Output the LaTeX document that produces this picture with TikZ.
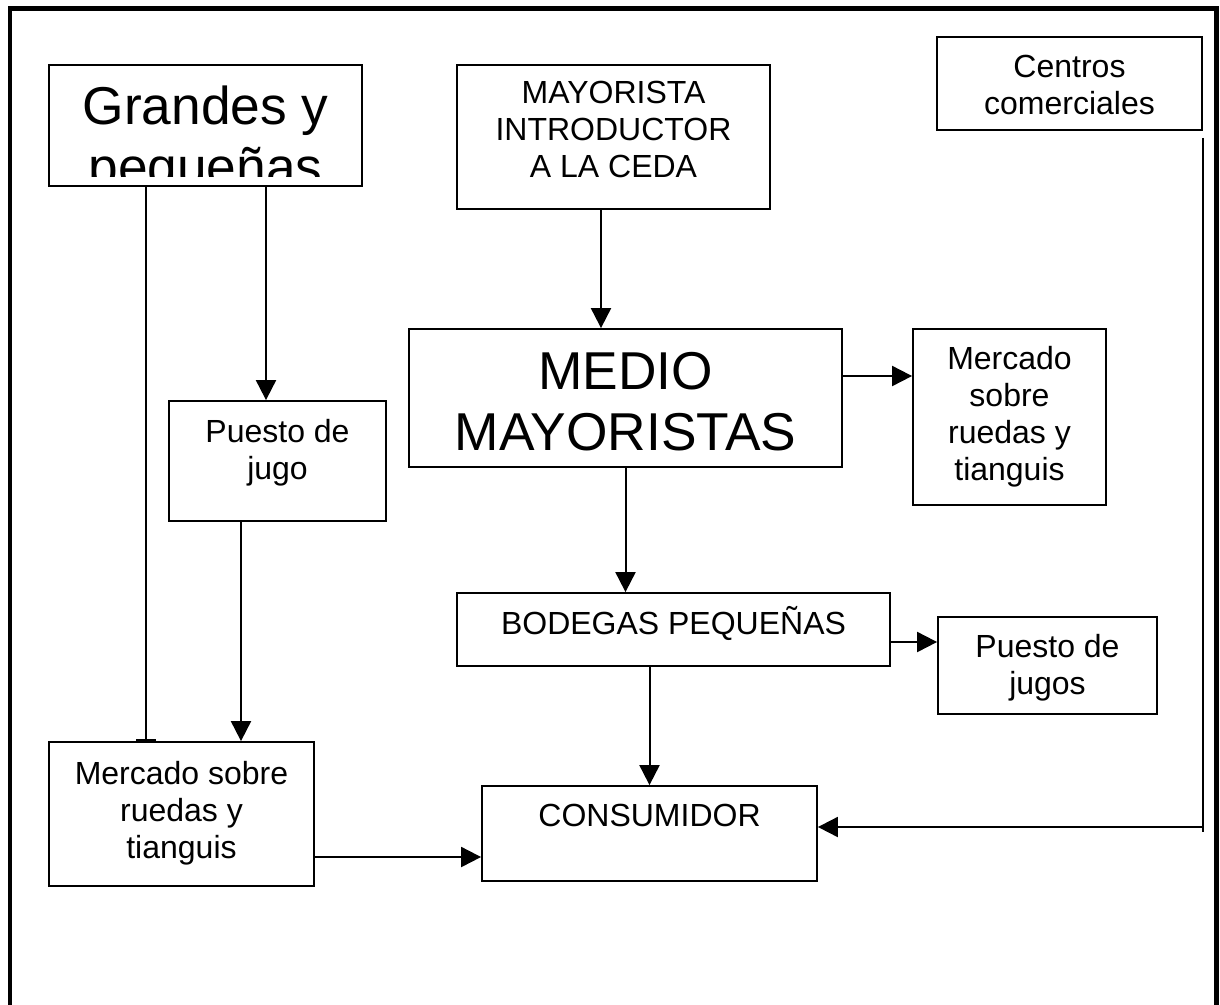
\documentclass[tikz,border=0pt]{standalone}
\usepackage{fontspec}
\setmainfont{Liberation Sans}
\usetikzlibrary{arrows.meta}

\begin{document}
\begin{tikzpicture}[x=1pt,y=-1pt,
  box/.style={draw,shape=rectangle,line width=1.8pt,inner sep=0pt},
  txt/.style={font=\fontsize{32}{37}\selectfont,align=center,inner sep=0pt,anchor=north},
  bigtxt/.style={font=\fontsize{53.3}{61}\selectfont,align=center,inner sep=0pt,anchor=north},
  arr/.style={line width=2pt,-{Triangle[length=20pt,width=20pt]}}]

  \useasboundingbox (0,0) rectangle (1220,1004);

  % outer frame (open at the bottom)
  \draw[line width=4.5pt] (10,1010) -- (10,8.5) -- (1216.5,8.5) -- (1216.5,1010);

  % Specification of nodes (position, size, text)
  \node[box,minimum width=313pt,minimum height=121pt] (grandes) at (205.5,125.5) {};
  \node[box,minimum width=313pt,minimum height=144pt,
    label={[txt,yshift=-17pt]north:MAYORISTA\\INTRODUCTOR\\A LA CEDA}] (mayorista) at (613.5,137) {};
  \node[box,minimum width=265pt,minimum height=93pt,
    label={[txt,yshift=-19pt]north:Centros\\comerciales}] (centros) at (1069.5,83.5) {};
  \node[box,minimum width=433pt,minimum height=138pt,
    label={[bigtxt,yshift=-24pt]north:MEDIO\\MAYORISTAS}] (medio) at (625.5,398) {};
  \node[box,minimum width=193pt,minimum height=176pt,
    label={[txt,yshift=-18pt]north:Mercado\\sobre\\ruedas y\\tianguis}] (mercadoR) at (1009.5,417) {};
  \node[box,minimum width=217pt,minimum height=120pt,
    label={[txt,yshift=-19pt]north:Puesto de\\jugo}] (puestoJ) at (277.5,461) {};
  \node[box,minimum width=433pt,minimum height=73pt,
    label={[txt,yshift=-14.5pt]north:BODEGAS PEQUEÑAS}] (bodegas) at (673.5,629.5) {};
  \node[box,minimum width=219pt,minimum height=97pt,
    label={[txt,yshift=-18pt]north:Puesto de\\jugos}] (puestoJs) at (1047.5,665.5) {};
  \node[box,minimum width=265pt,minimum height=144pt,
    label={[txt,yshift=-20pt]north:Mercado sobre\\ruedas y\\tianguis}] (mercadoL) at (181.5,814) {};
  \node[box,minimum width=335pt,minimum height=95pt,
    label={[txt,yshift=-19pt]north:CONSUMIDOR}] (consumidor) at (649.5,833.5) {};

  % text of the first box runs past its lower edge
  \begin{scope}
    \clip (grandes.north west) rectangle ([yshift=10pt]grandes.south east);
    \node[bigtxt] at ([yshift=-22pt]grandes.north) {Grandes y\\pequeñas};
  \end{scope}

  % connectors
  \begin{scope}[line width=2pt]
    \draw[arr] ([xshift=60.5pt]grandes.south) coordinate (g1) -- (g1 |- puestoJ.north);
    \draw[-{Bar[width=20pt]}] ([xshift=-59.5pt]grandes.south) coordinate (g2) -- (g2 |- mercadoL.north);
    \draw[arr] ([xshift=-36.5pt]puestoJ.south) coordinate (p1) -- (p1 |- mercadoL.north);
    \draw[arr] ([xshift=-12.5pt]mayorista.south) coordinate (m1) -- (m1 |- medio.north);
    \draw[arr] ([yshift=22pt]medio.east) coordinate (m2) -- (m2 -| mercadoR.west);
    \draw[arr] (medio.south) -- (medio.south |- bodegas.north);
    \draw[arr] ([yshift=-12.5pt]bodegas.east) coordinate (b1) -- (b1 -| puestoJs.west);
    \draw[arr] (bodegas.south -| consumidor.north) -- (consumidor.north);
    \draw[arr] ([yshift=-43pt]mercadoL.east) coordinate (l1) -- (l1 -| consumidor.west);
    \coordinate (ctop) at ([yshift=-7pt]centros.south east);
    \coordinate (cin) at ([yshift=6.5pt]consumidor.east);
    \draw (ctop) -- (ctop |- cin) -- ++(0,5);
    \draw[arr] (ctop |- cin) -- (cin);
  \end{scope}

\end{tikzpicture}
\end{document}
